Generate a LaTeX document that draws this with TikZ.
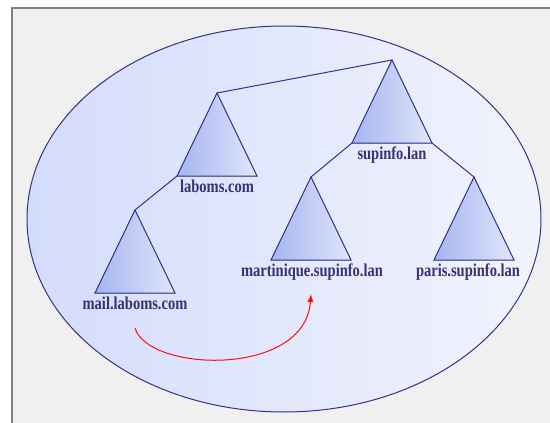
\documentclass[tikz,border=0pt]{standalone}
\usepackage{fontspec}
\setmainfont{Liberation Serif}
\usetikzlibrary{positioning, arrows.meta}

\definecolor{navy}{RGB}{50,50,140}
\definecolor{txtnavy}{RGB}{55,50,115}
\definecolor{bggray}{RGB}{240,240,240}
\definecolor{ellleft}{RGB}{211,220,251}
\definecolor{ellright}{RGB}{242,244,253}
\definecolor{tridark}{RGB}{165,181,240}
\definecolor{trilight}{RGB}{224,230,251}

\begin{document}
\begin{tikzpicture}[x=1pt, y=-1pt,
    tri/.style={draw=navy, line width=1pt, line join=miter, left color=tridark, right color=trilight},
    link/.style={draw=navy, line width=1pt},
    lbl/.style={font=\fontsize{14.5}{16}\selectfont\bfseries, text=txtnavy, inner sep=1pt},
    move/.style={draw=red!95!white, line width=1pt, -{Latex[length=8pt, width=6pt]}}]
        \useasboundingbox (0,0) rectangle (550,423);
        \fill[white] (0,0) rectangle (550,423);
        \fill[bggray] (12,8) rectangle (550,423);
        \draw[gray, line width=1.2pt] (12,423) -- (12,8) -- (550,8);

        % the zone
        \draw[navy, line width=1pt, left color=ellleft, right color=ellright]
            (284,219) ellipse [x radius=257pt, y radius=193pt];

        % domains
        \foreach \n/\x/\y/\lx/\t in {sup/392/60/392/supinfo.lan, lab/217/93/217/laboms.com,
                mail/135/210/135/mail.laboms.com, mart/311/177/312/martinique.supinfo.lan,
                par/474/177/468/paris.supinfo.lan} {
            \coordinate (\n-top) at (\x,\y);
            \coordinate (\n-bl) at (\x-40,\y+83);
            \coordinate (\n-br) at (\x+40,\y+83);
            \filldraw[tri] (\n-top) -- (\n-bl) -- (\n-br) -- cycle;
            \node[lbl, anchor=north] (\n) at (\lx,\y+86) {\scalebox{1}[1.25]{\t}};
        }

        \draw[link] (lab-top) -- (sup-top);
        \draw[link] (lab-bl) -- (mail-top);
        \draw[link] (sup-bl) -- (mart-top);
        \draw[link] (sup-br) -- (par-top);

        \coordinate (from) at (135,328);
        \coordinate (to) at (311,294);
        \draw[move] (from) .. controls (148,372) and (305,378) .. (to);
\end{tikzpicture}
\end{document}
